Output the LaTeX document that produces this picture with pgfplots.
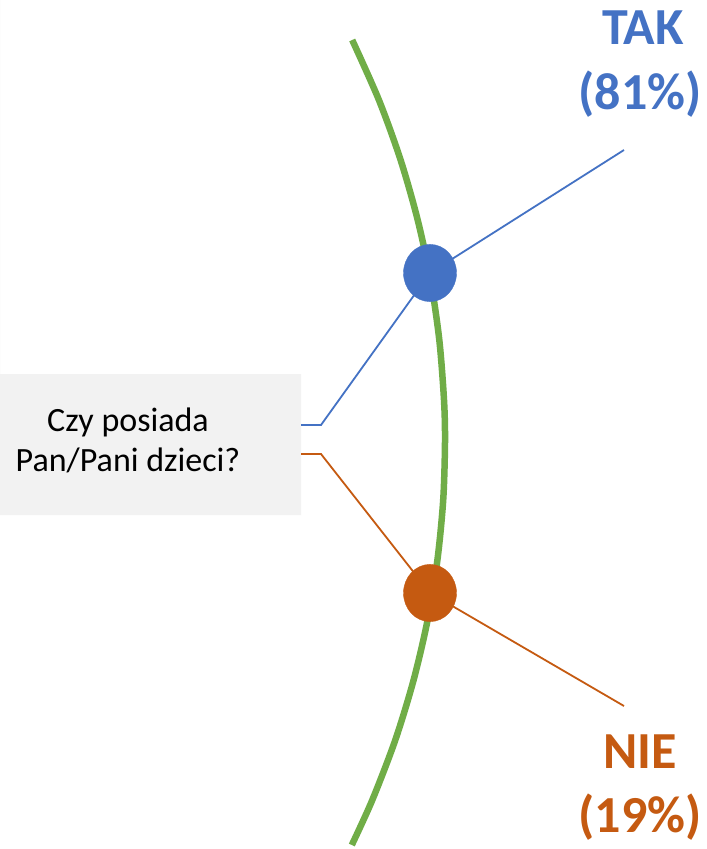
\documentclass[border=0pt]{standalone}
\usepackage{fontspec}
\setmainfont{Carlito}
\usepackage{pgfplots}
\pgfplotsset{compat=1.18}
\definecolor{takblue}{HTML}{4472C4}
\definecolor{nieorange}{HTML}{C55A11}
\definecolor{arcgreen}{HTML}{70AD47}
\definecolor{boxgray}{HTML}{F2F2F2}
\begin{document}
\begin{tikzpicture}
\begin{axis}[
    width=707bp, height=849bp, scale only axis,
    xmin=0, xmax=707, ymin=0, ymax=849,
    y dir=reverse,
    hide axis,
    clip=false,
]
% page background
\addplot[fill=white, draw=none] coordinates {(0,0) (707,0) (707,849) (0,849)} \closedcycle;

% question box
\addplot[fill=boxgray, draw=none] coordinates {(0,374) (301,374) (301,515) (0,515)} \closedcycle;

% green arc
\addplot[arcgreen, line width=6.5bp, smooth] coordinates {
    (352.2,40) (378.9,100) (400.6,160) (417.7,220) (430.6,280) (439.3,340)
    (444.0,400) (445.0,442) (443.2,500) (437.4,560) (427.6,620) (413.6,680)
    (395.3,740) (372.3,800) (351.8,845)
};

% connectors
\addplot[takblue, line width=1.8bp] coordinates {(301,425) (321,425) (430,273) (624,150)};
\addplot[nieorange, line width=1.8bp] coordinates {(301,454) (321,454) (430,593) (624,706)};

% answer dots
\addplot[only marks, mark=*, mark size=26.5bp, mark options={yscale=1.08, fill=takblue, draw=takblue}] coordinates {(430,273)};
\addplot[only marks, mark=*, mark size=26.5bp, mark options={yscale=1.08, fill=nieorange, draw=nieorange}] coordinates {(430,593)};

% labels
\node[anchor=base, text=takblue, font=\fontsize{52bp}{60bp}\selectfont\bfseries] at (axis cs:643,45) {TAK};
\node[anchor=base, text=takblue, font=\fontsize{52bp}{60bp}\selectfont\bfseries] at (axis cs:640,110) {(81\%)};
\node[anchor=base, text=nieorange, font=\fontsize{52bp}{60bp}\selectfont\bfseries] at (axis cs:640,768) {NIE};
\node[anchor=base, text=nieorange, font=\fontsize{52bp}{60bp}\selectfont\bfseries] at (axis cs:640,832) {(19\%)};
\node[anchor=base, font=\fontsize{34bp}{40bp}\selectfont] at (axis cs:128,431) {Czy posiada};
\node[anchor=base, font=\fontsize{34bp}{40bp}\selectfont] at (axis cs:128,471) {Pan/Pani dzieci?};
\end{axis}
\end{tikzpicture}
\end{document}
